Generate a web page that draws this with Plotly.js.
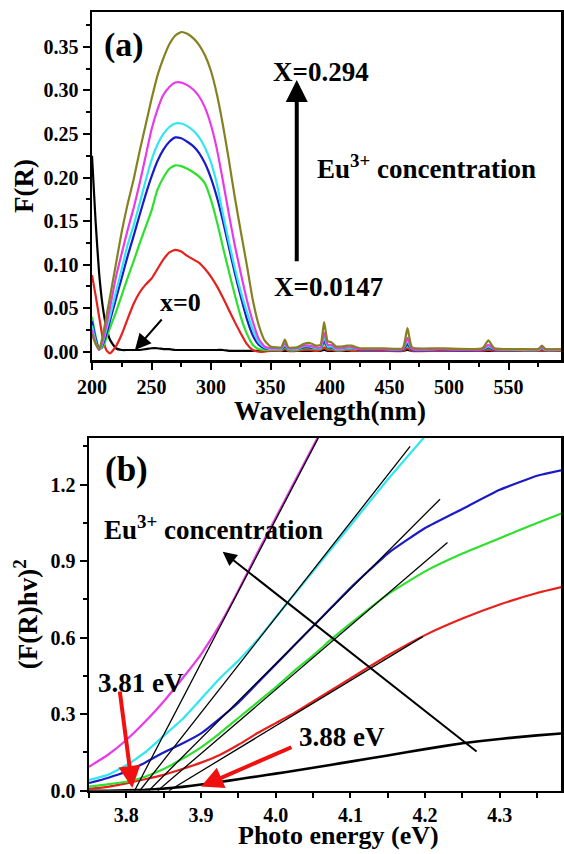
<!DOCTYPE html>
<html>
<head>
<meta charset="utf-8">
<script src="https://cdn.plot.ly/plotly-3.0.1.min.js"></script>
<style>html,body{margin:0;padding:0;background:#fff;}#chart{width:564px;height:854px;}</style>
</head>
<body>
<div id="chart"></div>
<script>
// ---------- Panel (a): F(R) vs wavelength ----------
const wavelength = [200,203,206,209,212,215,220,225,230,235,240,245,250,255,260,265,270,275,280,285,290,295,300,305,310,315,320,325,330,335,340,345,350,
  355,359,362,365,372,378,383,388,392,395,398,401,405,410,414,418,425,445,461,465,469,490,528,533,538,560,575,578,581,595];

const fr_x0 = [0.225,0.15,0.09,0.052,0.028,0.014,0.004,0.002,0.002,0.002,0.002,0.003,0.004,0.004,0.003,0.003,0.002,0.002,0.002,0.002,0.002,0.002,0.002,0.002,0.002,0.001,0.001,0.001,0.001,0.001,0.001,0.001,0.001,
  0.001,0.001,0.001,0.001,0.001,0.001,0.001,0.001,0.001,0.002,0.001,0.001,0.001,0.001,0.001,0.001,0.001,0.001,0.001,0.002,0.001,0.001,0.001,0.001,0.001,0.001,0.001,0.001,0.001,0.001];
const fr_red = [0.088,0.065,0.04,0.016,0.002,-0.002,0.006,0.02,0.038,0.055,0.068,0.077,0.084,0.095,0.106,0.114,0.117,0.115,0.11,0.106,0.102,0.095,0.086,0.075,0.062,0.048,0.034,0.021,0.009,0.002,0.0,0.0,0.001,
  0.001,0.001,0.003,0.001,0.001,0.002,0.002,0.001,0.002,0.005,0.002,0.002,0.001,0.001,0.002,0.001,0.001,0.001,0.001,0.004,0.001,0.001,0.001,0.002,0.001,0.001,0.001,0.001,0.001,0.001];
const fr_green = [0.04,0.018,0.003,0.005,0.015,0.027,0.045,0.065,0.085,0.104,0.124,0.143,0.162,0.186,0.2,0.21,0.214,0.213,0.21,0.206,0.201,0.193,0.174,0.149,0.12,0.092,0.065,0.04,0.021,0.008,0.003,0.002,0.002,
  0.002,0.002,0.005,0.002,0.002,0.004,0.004,0.003,0.003,0.01,0.004,0.004,0.002,0.002,0.003,0.003,0.002,0.002,0.002,0.007,0.002,0.002,0.002,0.004,0.002,0.002,0.002,0.003,0.002,0.002];
const fr_blue = [0.035,0.015,0.003,0.008,0.02,0.035,0.06,0.085,0.11,0.133,0.157,0.18,0.201,0.219,0.232,0.241,0.246,0.245,0.241,0.236,0.228,0.216,0.199,0.177,0.15,0.12,0.09,0.063,0.038,0.019,0.008,0.004,0.003,
  0.003,0.003,0.006,0.003,0.003,0.005,0.005,0.004,0.004,0.013,0.005,0.005,0.003,0.003,0.004,0.004,0.002,0.002,0.002,0.009,0.002,0.002,0.002,0.005,0.002,0.002,0.002,0.003,0.002,0.002];
const fr_cyan = [0.03,0.012,0.002,0.01,0.025,0.04,0.068,0.095,0.123,0.145,0.17,0.196,0.22,0.238,0.25,0.258,0.262,0.262,0.259,0.254,0.246,0.234,0.217,0.192,0.158,0.126,0.096,0.069,0.046,0.026,0.011,0.005,0.003,
  0.003,0.003,0.008,0.003,0.003,0.006,0.006,0.004,0.004,0.017,0.006,0.006,0.003,0.003,0.004,0.004,0.003,0.003,0.003,0.012,0.003,0.003,0.003,0.006,0.003,0.002,0.002,0.004,0.002,0.002];
const fr_magenta = [0.025,0.01,0.002,0.012,0.03,0.05,0.085,0.113,0.14,0.165,0.193,0.224,0.255,0.278,0.295,0.304,0.309,0.309,0.306,0.301,0.293,0.28,0.26,0.232,0.196,0.158,0.122,0.09,0.06,0.035,0.015,0.006,0.004,
  0.004,0.004,0.01,0.004,0.004,0.007,0.007,0.005,0.005,0.022,0.008,0.008,0.004,0.004,0.005,0.005,0.003,0.003,0.003,0.016,0.003,0.003,0.003,0.008,0.003,0.003,0.003,0.005,0.003,0.003];
const fr_olive = [0.02,0.009,0.003,0.018,0.04,0.062,0.1,0.138,0.17,0.198,0.23,0.26,0.29,0.317,0.337,0.353,0.363,0.367,0.365,0.36,0.352,0.34,0.322,0.295,0.26,0.22,0.177,0.138,0.1,0.06,0.031,0.013,0.006,
  0.005,0.005,0.014,0.005,0.005,0.009,0.01,0.007,0.008,0.034,0.012,0.011,0.006,0.006,0.007,0.007,0.004,0.004,0.004,0.027,0.005,0.004,0.004,0.013,0.004,0.003,0.003,0.007,0.003,0.003];

const waveTicks = [200,250,300,350,400,450,500,550];
const waveTickText = ['200','250','300','350','400','450','500','550'];
const frTicks = [0,0.05,0.10,0.15,0.20,0.25,0.30,0.35];
const frTickText = ['0.00','0.05','0.10','0.15','0.20','0.25','0.30','0.35'];

// ---------- Panel (b): (F(R)hv)^2 vs photon energy ----------
const energy = [3.75,3.775,3.8,3.825,3.85,3.875,3.9,3.925,3.95,3.975,4.0,4.025,4.05,4.075,4.1,4.15,4.2,4.25,4.3,4.35,4.385];
const k_black = [0.0,0.0,0.002,0.004,0.008,0.015,0.024,0.034,0.045,0.056,0.067,0.078,0.09,0.102,0.114,0.138,0.163,0.186,0.203,0.217,0.225];
const k_red = [0.007,0.015,0.029,0.045,0.062,0.085,0.11,0.14,0.18,0.225,0.265,0.305,0.35,0.395,0.44,0.53,0.61,0.675,0.73,0.775,0.80];
const k_green = [0.016,0.025,0.035,0.055,0.085,0.125,0.17,0.225,0.285,0.345,0.405,0.47,0.53,0.595,0.655,0.77,0.86,0.93,0.99,1.05,1.09];
const k_blue = [0.03,0.05,0.075,0.11,0.15,0.185,0.225,0.283,0.345,0.42,0.495,0.57,0.645,0.72,0.795,0.93,1.03,1.105,1.18,1.235,1.258];
const k_cyan = [0.042,0.062,0.10,0.15,0.215,0.28,0.36,0.44,0.51,0.59,0.68,0.77,0.86,0.95,1.04,1.22,1.39,null,null,null,null];
const k_magenta = [0.094,0.14,0.199,0.27,0.35,0.44,0.535,0.65,0.785,0.93,1.07,1.21,1.35,1.49,null,null,null,null,null,null,null];

// tangent (linear fit) lines: start on the energy axis, end point
const fitStartE = [3.811,3.818,3.830,3.842,3.857];
const fitEndE   = [4.06,4.18,4.22,4.23,4.197];
const fitEndV   = [1.40,1.35,1.143,0.973,0.604];

const energyTicks = [3.8,3.9,4.0,4.1,4.2,4.3];
const energyTickText = ['3.8','3.9','4.0','4.1','4.2','4.3'];
const kTicks = [0,0.3,0.6,0.9,1.2];
const kTickText = ['0.0','0.3','0.6','0.9','1.2'];

// ---------- styling ----------
const C = {black:'#000000', red:'#e8201c', green:'#2ee02e', blue:'#1a1ac8', cyan:'#30e6f0', magenta:'#e83ae8', olive:'#858020'};
const FONT = 'Liberation Serif, Times New Roman, serif';

function line(x, y, color, xa, ya, w, smooth) {
  const t = {x:x, y:y, mode:'lines', type:'scatter', xaxis:xa, yaxis:ya,
          line:{color:color, width:w||2}, hoverinfo:'skip'};
  if (smooth) { t.line.shape = 'spline'; t.line.smoothing = smooth; }
  return t;
}

const traces = [
  line(wavelength, fr_x0, C.black, 'x', 'y', 2.2, 0.5),
  line(wavelength, fr_red, C.red, 'x', 'y', 2.2, 0.5),
  line(wavelength, fr_green, C.green, 'x', 'y', 2.2, 0.5),
  line(wavelength, fr_blue, C.blue, 'x', 'y', 2.2, 0.5),
  line(wavelength, fr_cyan, C.cyan, 'x', 'y', 2.2, 0.5),
  line(wavelength, fr_magenta, C.magenta, 'x', 'y', 2.2, 0.5),
  line(wavelength, fr_olive, C.olive, 'x', 'y', 2.2, 0.5),
];
const kSeries = [[k_black,C.black,2.6],[k_red,C.red,2.2],[k_green,C.green,2.2],[k_blue,C.blue,2.2],[k_cyan,C.cyan,2.2],[k_magenta,C.magenta,2.2]];
kSeries.forEach(s => traces.push(line(energy, s[0], s[1], 'x2', 'y2', s[2], 0.4)));
for (let i = 0; i < fitStartE.length; i++) {
  traces.push(line([fitStartE[i], fitEndE[i]], [0, fitEndV[i]], '#000', 'x2', 'y2', 1.3));
}

function axis(extra) {
  return Object.assign({
    showline:true, mirror:true, linecolor:'#000', linewidth:2.5,
    ticks:'outside', ticklen:7, tickwidth:2, tickcolor:'#000',
    showgrid:false, zeroline:false, fixedrange:true,
    tickfont:{family:FONT, size:20, weight:'bold', color:'#000'}
  }, extra);
}
const titleFont = {family:FONT, size:27, weight:'bold', color:'#000'};
const annFont = (s) => ({family:FONT, size:s, weight:'bold', color:'#000'});

const layout = {
  width:564, height:854,
  margin:{l:0, r:0, t:0, b:0},
  paper_bgcolor:'#fff', plot_bgcolor:'#fff',
  showlegend:false,
  font:{family:FONT, color:'#000'},
  xaxis: axis({domain:[92/564, 561/564], anchor:'y', range:[200, 594],
    tickmode:'array', tickvals:waveTicks, ticktext:waveTickText,
    minor:{dtick:25, tick0:200, ticks:'outside', ticklen:4, tickwidth:2, tickcolor:'#000', showgrid:false}}),
  yaxis: axis({domain:[1-360/854, 1-12/854], anchor:'x', range:[-0.0095, 0.39],
    tickmode:'array', tickvals:frTicks, ticktext:frTickText,
    minor:{dtick:0.025, tick0:0, ticks:'outside', ticklen:4, tickwidth:2, tickcolor:'#000', showgrid:false},
    title:{text:'F(R)', font:titleFont, standoff:2}}),
  xaxis2: axis({domain:[89/564, 561/564], anchor:'y2', range:[3.75, 4.382], ticklen:5,
    tickmode:'array', tickvals:energyTicks, ticktext:energyTickText,
    minor:{dtick:0.05, tick0:3.75, ticks:'outside', ticklen:5, tickwidth:2, tickcolor:'#000', showgrid:false}}),
  yaxis2: axis({domain:[1-790.7/854, 1-438/854], anchor:'x2', range:[0, 1.383],
    tickmode:'array', tickvals:kTicks, ticktext:kTickText,
    minor:{dtick:0.15, tick0:0, ticks:'outside', ticklen:4, tickwidth:2, tickcolor:'#000', showgrid:false},
    title:{text:'(F(R)hv)<sup>2</sup>', font:titleFont, standoff:5}}),
  annotations: [
    // x-axis titles placed just under the tick labels
    {xref:'paper', yref:'paper', x:330/564, y:1-411/854, xanchor:'center', yanchor:'middle',
      text:'Wavelength(nm)', showarrow:false, font:titleFont},
    {xref:'paper', yref:'paper', x:338/564, y:1-835/854, xanchor:'center', yanchor:'middle',
      text:'Photo energy (eV)', showarrow:false, font:{family:FONT, size:26, weight:'bold', color:'#000'}},
    // panel (a)
    {xref:'x', yref:'y', x:226.9, y:0.352, text:'(a)', showarrow:false, font:annFont(34)},
    {xref:'x', yref:'y', x:392.4, y:0.321, text:'X=0.294', showarrow:false, font:annFont(27)},
    {xref:'x', yref:'y', x:387.4, y:0.212, xanchor:'left', text:'Eu<sup>3+</sup> concentration', showarrow:false, font:annFont(27)},
    {xref:'x', yref:'y', x:351.3, y:0.0743, xanchor:'left', text:'X=0.0147', showarrow:false, font:annFont(27)},
    {xref:'x', yref:'y', x:255.5, y:0.056, xanchor:'left', text:'x=0', showarrow:false, font:annFont(26)},
    {xref:'x', yref:'y', axref:'x', ayref:'y', x:372, y:0.312, ax:372, ay:0.102, text:'',
      showarrow:true, arrowhead:2, arrowsize:1.1, arrowwidth:4, arrowcolor:'#000', standoff:0},
    {xref:'x', yref:'y', axref:'x', ayref:'y', x:236.1, y:0.002, ax:259.7, ay:0.0387, text:'',
      showarrow:true, arrowhead:2, arrowsize:1.6, arrowwidth:2, arrowcolor:'#000', standoff:0},
    // panel (b)
    {xref:'x2', yref:'y2', x:3.80, y:1.258, text:'(b)', showarrow:false, font:annFont(35)},
    {xref:'x2', yref:'y2', x:3.767, y:1.03, xanchor:'left', text:'Eu<sup>3+</sup> concentration', showarrow:false, font:annFont(27)},
    {xref:'x2', yref:'y2', x:3.760, y:0.422, xanchor:'left', text:'3.81 eV', showarrow:false, font:annFont(27)},
    {xref:'x2', yref:'y2', x:4.028, y:0.211, xanchor:'left', text:'3.88 eV', showarrow:false, font:annFont(27)},
    {xref:'x2', yref:'y2', axref:'x2', ayref:'y2', x:3.929, y:0.937, ax:4.271, ay:0.149, text:'',
      showarrow:true, arrowhead:2, arrowsize:1.4, arrowwidth:2, arrowcolor:'#000', standoff:0},
    {xref:'x2', yref:'y2', axref:'x2', ayref:'y2', x:3.808, y:0.011, ax:3.791, ay:0.395, text:'',
      showarrow:true, arrowhead:2, arrowsize:1.1, arrowwidth:4, arrowcolor:'#f01010', standoff:0},
    {xref:'x2', yref:'y2', axref:'x2', ayref:'y2', x:3.90, y:0.016, ax:4.023, ay:0.173, text:'',
      showarrow:true, arrowhead:2, arrowsize:1.1, arrowwidth:4, arrowcolor:'#f01010', standoff:0},
  ]
};

Plotly.newPlot('chart', traces, layout, {displayModeBar:false, staticPlot:true});
</script>
</body>
</html>
